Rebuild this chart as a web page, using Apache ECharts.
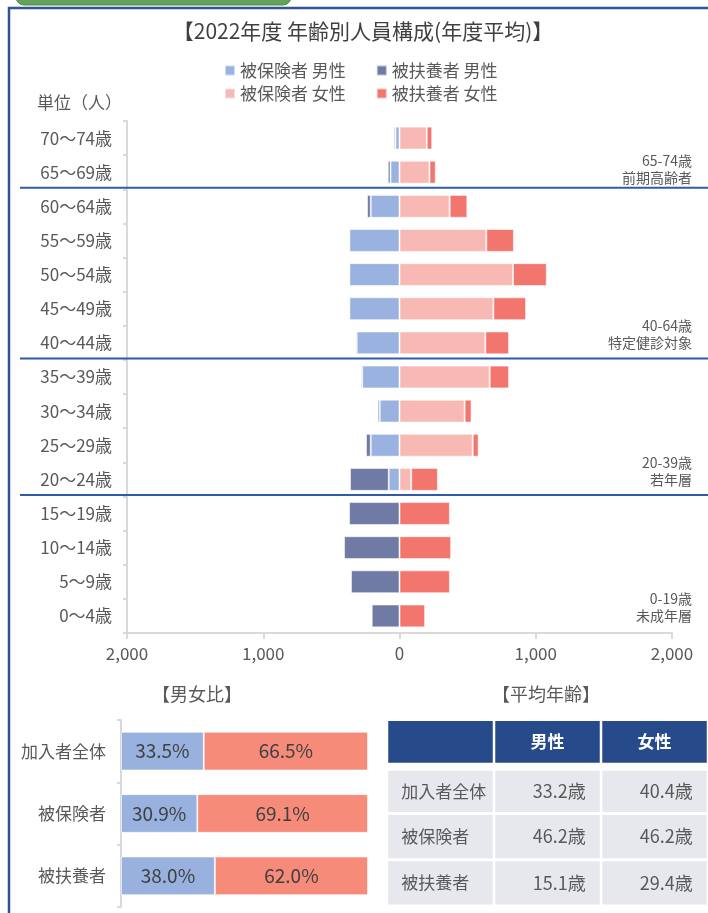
<!DOCTYPE html>
<html>
<head>
<meta charset="utf-8">
<script src="https://cdn.jsdelivr.net/npm/echarts@6/dist/echarts.min.js"></script>
<style>
  html, body { margin: 0; padding: 0; background: #ffffff; }
  #chart { width: 708px; height: 913px; }
</style>
</head>
<body>
<div id="chart"></div>
<script>
// Age bands, top row first
const ageGroups = ['70～74歳', '65～69歳', '60～64歳', '55～59歳', '50～54歳', '45～49歳', '40～44歳',
  '35～39歳', '30～34歳', '25～29歳', '20～24歳', '15～19歳', '10～14歳', '5～9歳', '0～4歳'];
// Average headcount per band
const insuredMale     = [30, 66, 211, 368, 368, 368, 314, 274, 145, 211, 79, 0, 0, 0, 0];
const dependentMale   = [12, 20, 27, 6, 6, 6, 9, 10, 15, 35, 284, 370, 407, 356, 204];
const insuredFemale   = [200, 220, 368, 637, 833, 689, 630, 662, 478, 537, 86, 0, 0, 0, 0];
const dependentFemale = [40, 46, 130, 203, 248, 240, 174, 142, 51, 44, 196, 370, 379, 370, 188];
const seriesNames = ['被保険者 男性', '被扶養者 男性', '被保険者 女性', '被扶養者 女性'];
const countTicks = [-2000, -1000, 0, 1000, 2000];

// Band groupings: separator drawn above `first`, caption placed on `last`
const bandGroups = [
  { first: '70～74歳', last: '65～69歳', range: '65-74歳', note: '前期高齢者' },
  { first: '60～64歳', last: '40～44歳', range: '40-64歳', note: '特定健診対象' },
  { first: '35～39歳', last: '20～24歳', range: '20-39歳', note: '若年層' },
  { first: '15～19歳', last: '0～4歳', range: '0-19歳', note: '未成年層' }
];

// Sex ratio (%)
const ratioGroups = ['加入者全体', '被保険者', '被扶養者'];
const maleRatio   = [33.5, 30.9, 38.0];
const femaleRatio = [66.5, 69.1, 62.0];

// Average age table
const tableHeader = ['', '男性', '女性'];
const tableRows   = ['加入者全体', '被保険者', '被扶養者'];
const maleAge     = [33.2, 46.2, 15.1];
const femaleAge   = [40.4, 46.2, 29.4];

const FONT = '"Noto Sans CJK JP", "Noto Sans", sans-serif';
const GREY = '#595959';
const AXIS = '#d9d9d9';

const colors = {
  insuredMale: '#9ab2e0',
  dependentMale: '#6f7ba4',
  insuredFemale: '#f8b9b5',
  dependentFemale: '#f3766e',
  ratioMale: '#98b1df',
  ratioFemale: '#f68b7a',
  header: '#264a8a',
  cell: '#e7e8ed',
  rule: '#2f5ca8'
};

// Table cells: header row then one row per group
const tableCells = [];
tableHeader.forEach((t, c) => tableCells.push({ value: [c, 0], text: t, kind: 'head' }));
tableRows.forEach((name, r) => {
  tableCells.push({ value: [0, r + 1], text: name, kind: 'name' });
  tableCells.push({ value: [1, r + 1], text: maleAge[r].toFixed(1) + '歳', kind: 'num' });
  tableCells.push({ value: [2, r + 1], text: femaleAge[r].toFixed(1) + '歳', kind: 'num' });
});

const chart = echarts.init(document.getElementById('chart'), null, { renderer: 'canvas' });

const barStyle = (color) => ({ color, borderColor: 'rgba(255,255,255,0.55)', borderWidth: 1 });

chart.setOption({
  animation: false,
  textStyle: { fontFamily: FONT },
  legend: [
    {
      data: seriesNames.slice(0, 2), left: 219, top: 57, orient: 'horizontal',
      icon: 'rect', itemWidth: 10, itemHeight: 10, itemGap: 30,
      textStyle: { fontSize: 17, color: GREY, fontFamily: FONT }
    },
    {
      data: seriesNames.slice(2, 4), left: 219, top: 80, orient: 'horizontal',
      icon: 'rect', itemWidth: 10, itemHeight: 10, itemGap: 30,
      textStyle: { fontSize: 17, color: GREY, fontFamily: FONT }
    }
  ],
  grid: [
    { left: 127, top: 121, width: 545, height: 512 },
    { left: 121, top: 720, width: 247, height: 187 },
    { left: 387, top: 721, width: 321, height: 185 }
  ],
  xAxis: [
    {
      type: 'value', gridIndex: 0, min: countTicks[0], max: countTicks[countTicks.length - 1], interval: 1000,
      position: 'bottom',
      axisLine: { show: true, onZero: false, lineStyle: { color: AXIS, width: 2 } },
      axisTick: { show: true, length: 6, lineStyle: { color: AXIS, width: 2 } },
      splitLine: { show: false },
      axisLabel: {
        fontSize: 17, color: GREY, margin: 12, fontFamily: FONT,
        formatter: (v) => Math.abs(v).toLocaleString('en-US')
      }
    },
    { type: 'value', gridIndex: 1, min: 0, max: 100, show: false },
    { type: 'category', gridIndex: 2, data: tableHeader.map((t, i) => 'c' + i), show: false }
  ],
  yAxis: [
    {
      type: 'category', gridIndex: 0, data: ageGroups, inverse: true, position: 'left',
      axisLine: { show: false }, axisTick: { show: false },
      axisLabel: { fontSize: 17, color: GREY, margin: 15, fontFamily: FONT }
    },
    {
      type: 'category', gridIndex: 0, data: ageGroups, inverse: true, position: 'left',
      axisLine: { show: true, onZero: true, lineStyle: { color: AXIS, width: 2 } },
      axisTick: { show: true, length: 4, lineStyle: { color: AXIS, width: 2 } },
      axisLabel: { show: false }
    },
    {
      type: 'category', gridIndex: 1, data: ratioGroups, inverse: true,
      axisLine: { show: true, lineStyle: { color: AXIS, width: 2 } },
      axisTick: { show: true, length: 4, lineStyle: { color: AXIS, width: 2 } },
      axisLabel: { fontSize: 17, color: GREY, margin: 15, fontFamily: FONT }
    },
    { type: 'category', gridIndex: 2, data: ['head'].concat(tableRows), inverse: true, show: false }
  ],
  series: [
    {
      name: seriesNames[0], type: 'bar', xAxisIndex: 0, yAxisIndex: 0, stack: 'male',
      barCategoryGap: '33%', barGap: '-100%',
      itemStyle: barStyle(colors.insuredMale), data: insuredMale.map(v => -v)
    },
    {
      name: seriesNames[1], type: 'bar', xAxisIndex: 0, yAxisIndex: 0, stack: 'male',
      barCategoryGap: '33%', barGap: '-100%',
      itemStyle: barStyle(colors.dependentMale), data: dependentMale.map(v => -v)
    },
    {
      name: seriesNames[2], type: 'bar', xAxisIndex: 0, yAxisIndex: 0, stack: 'female',
      barCategoryGap: '33%', barGap: '-100%',
      itemStyle: barStyle(colors.insuredFemale), data: insuredFemale
    },
    {
      name: seriesNames[3], type: 'bar', xAxisIndex: 0, yAxisIndex: 0, stack: 'female',
      barCategoryGap: '33%', barGap: '-100%',
      itemStyle: barStyle(colors.dependentFemale), data: dependentFemale
    },
    {
      name: '男性比', type: 'bar', xAxisIndex: 1, yAxisIndex: 2, stack: 'ratio',
      barCategoryGap: '38%',
      itemStyle: barStyle(colors.ratioMale), data: maleRatio,
      label: {
        show: true, position: 'inside', color: '#404040', fontSize: 19, fontFamily: FONT,
        formatter: (p) => p.value.toFixed(1) + '%'
      }
    },
    {
      name: '女性比', type: 'bar', xAxisIndex: 1, yAxisIndex: 2, stack: 'ratio',
      barCategoryGap: '38%',
      itemStyle: barStyle(colors.ratioFemale), data: femaleRatio,
      label: {
        show: true, position: 'inside', color: '#404040', fontSize: 19, fontFamily: FONT,
        formatter: (p) => p.value.toFixed(1) + '%'
      }
    },
    {
      name: '平均年齢', type: 'custom', xAxisIndex: 2, yAxisIndex: 3,
      data: tableCells.map(c => c.value),
      renderItem: (params, api) => {
        const cell = tableCells[params.dataIndex];
        const col = api.value(0), row = api.value(1);
        const ctr = api.coord([col, row]);
        const size = api.size([1, 1]);
        let x0 = ctr[0] - size[0] / 2 + 1.25, w = size[0] - 2.5;
        let y0 = ctr[1] - size[1] / 2 + 1.5, h = size[1] - 3;
        if (row === 0) { y0 -= 1.5; h -= 1.5; }
        if (row === 1) { y0 += 2; h -= 2; }
        const isHead = cell.kind === 'head';
        const textX = cell.kind === 'name' ? x0 + 13 : (cell.kind === 'num' ? x0 + w - 14 : x0 + w / 2);
        const align = cell.kind === 'name' ? 'left' : (cell.kind === 'num' ? 'right' : 'center');
        const size2 = cell.kind === 'num' ? 18 : 17;
        return {
          type: 'group',
          children: [
            { type: 'rect', shape: { x: x0, y: y0, width: w, height: h },
              style: { fill: isHead ? colors.header : colors.cell } },
            { type: 'text', x: textX, y: y0 + h / 2,
              style: {
                text: cell.text, align: align, verticalAlign: 'middle',
                fill: isHead ? '#ffffff' : GREY,
                font: (isHead ? 'bold ' : '') + size2 + 'px ' + FONT
              } }
          ]
        };
      }
    }
  ]
});

// Decorations: frame, titles, band separators and band captions
const graphics = [];
graphics.push({
  type: 'rect', z: 0, silent: true,
  shape: { x: 9, y: 8, width: 760, height: 960 },
  style: { fill: 'none', stroke: '#2f5597', lineWidth: 2.5 }
});
graphics.push({
  type: 'rect', z: 1, silent: true,
  shape: { x: 16, y: -14, width: 275, height: 19, r: 8 },
  style: { fill: '#62a35c', stroke: '#4f8d4a', lineWidth: 1 }
});

const textEl = (text, x, y, size, align, color) => ({
  type: 'text', x, y, silent: true,
  style: { text, textAlign: align, textVerticalAlign: 'middle', align, verticalAlign: 'middle',
    fill: color || GREY, font: size + 'px ' + FONT }
});

graphics.push(textEl('【2022年度 年齢別人員構成(年度平均)】', 363, 31, 21, 'center', '#404040'));
graphics.push(textEl('単位（人）', 37, 103, 17, 'left'));
graphics.push(textEl('【男女比】', 197, 694, 18, 'center'));
graphics.push(textEl('【平均年齢】', 546, 694, 18, 'center'));

const rowY = (name) => chart.convertToPixel({ yAxisIndex: 0 }, name);
bandGroups.forEach((g, i) => {
  if (i > 0) {
    const idx = ageGroups.indexOf(g.first);
    const y = (rowY(ageGroups[idx - 1]) + rowY(ageGroups[idx])) / 2;
    graphics.push({
      type: 'line', silent: true, z: 5,
      shape: { x1: 20, y1: y - 1.5, x2: 708, y2: y - 1.5 },
      style: { stroke: colors.rule, lineWidth: 2 }
    });
  }
  // the top caption sits a little lower, just above its separator
  const yc = rowY(g.last) + (i === 0 ? 5 : 0);
  graphics.push(textEl(g.range, 692, yc - 17, 14, 'right'));
  graphics.push(textEl(g.note, 692, yc, 14, 'right'));
});

chart.setOption({ graphic: graphics });
</script>
</body>
</html>
